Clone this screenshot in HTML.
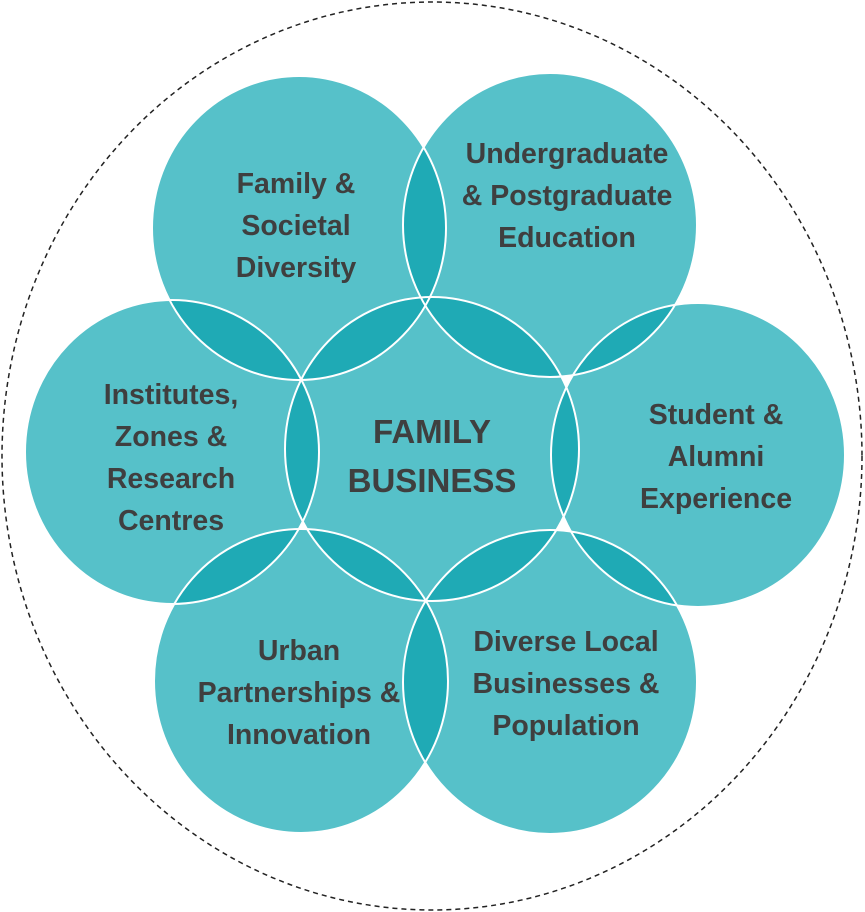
<!DOCTYPE html>
<html><head><meta charset="utf-8"><style>
html,body{margin:0;padding:0;background:#fff;width:865px;height:912px;overflow:hidden}
svg text{font-family:"Liberation Sans",Arial,sans-serif;font-weight:bold;fill:#3f3f3f;text-anchor:middle}
</style></head><body>
<svg width="865" height="912" viewBox="0 0 865 912" xmlns="http://www.w3.org/2000/svg">
<defs>
<clipPath id="TL"><ellipse cx="299" cy="228" rx="147" ry="152"/></clipPath>
<clipPath id="TR"><ellipse cx="550" cy="225" rx="147" ry="152"/></clipPath>
<clipPath id="L"><ellipse cx="172" cy="452" rx="147" ry="152"/></clipPath>
<clipPath id="C"><ellipse cx="432" cy="449" rx="147" ry="152"/></clipPath>
<clipPath id="R"><ellipse cx="698" cy="455" rx="147" ry="152"/></clipPath>
<clipPath id="BL"><ellipse cx="301" cy="681" rx="147" ry="152"/></clipPath>
</defs>
<ellipse cx="432" cy="456" rx="430" ry="454" fill="none" stroke="#222" stroke-width="1.5" stroke-dasharray="5,4"/>
<g fill="#56c1c9">
<ellipse cx="299" cy="228" rx="147" ry="152"/><ellipse cx="550" cy="225" rx="147" ry="152"/>
<ellipse cx="172" cy="452" rx="147" ry="152"/><ellipse cx="432" cy="449" rx="147" ry="152"/>
<ellipse cx="698" cy="455" rx="147" ry="152"/><ellipse cx="301" cy="681" rx="147" ry="152"/>
<ellipse cx="550" cy="682" rx="147" ry="152"/>
</g>
<g fill="#1faab5">
<ellipse cx="550" cy="225" rx="147" ry="152" clip-path="url(#TL)"/>
<ellipse cx="172" cy="452" rx="147" ry="152" clip-path="url(#TL)"/>
<ellipse cx="432" cy="449" rx="147" ry="152" clip-path="url(#TL)"/>
<ellipse cx="432" cy="449" rx="147" ry="152" clip-path="url(#TR)"/>
<ellipse cx="698" cy="455" rx="147" ry="152" clip-path="url(#TR)"/>
<ellipse cx="432" cy="449" rx="147" ry="152" clip-path="url(#L)"/>
<ellipse cx="301" cy="681" rx="147" ry="152" clip-path="url(#L)"/>
<ellipse cx="698" cy="455" rx="147" ry="152" clip-path="url(#C)"/>
<ellipse cx="301" cy="681" rx="147" ry="152" clip-path="url(#C)"/>
<ellipse cx="550" cy="682" rx="147" ry="152" clip-path="url(#C)"/>
<ellipse cx="550" cy="682" rx="147" ry="152" clip-path="url(#R)"/>
<ellipse cx="550" cy="682" rx="147" ry="152" clip-path="url(#BL)"/>
</g>
<g fill="none" stroke="#fff" stroke-width="2">
<ellipse cx="299" cy="228" rx="147" ry="152"/><ellipse cx="550" cy="225" rx="147" ry="152"/>
<ellipse cx="172" cy="452" rx="147" ry="152"/><ellipse cx="432" cy="449" rx="147" ry="152"/>
<ellipse cx="698" cy="455" rx="147" ry="152"/><ellipse cx="301" cy="681" rx="147" ry="152"/>
<ellipse cx="550" cy="682" rx="147" ry="152"/>
</g>
<g font-size="28.5">
<text x="296" y="193">Family &amp;</text><text x="296" y="235">Societal</text><text x="296" y="277">Diversity</text>
<text x="567" y="163">Undergraduate</text><text x="567" y="205">&amp; Postgraduate</text><text x="567" y="247">Education</text>
<text x="171" y="404">Institutes,</text><text x="171" y="446">Zones &amp;</text><text x="171" y="488">Research</text><text x="171" y="530">Centres</text>
<text x="716" y="424">Student &amp;</text><text x="716" y="466">Alumni</text><text x="716" y="508">Experience</text>
<text x="299" y="660">Urban</text><text x="299" y="702">Partnerships &amp;</text><text x="299" y="744">Innovation</text>
<text x="566" y="651">Diverse Local</text><text x="566" y="693">Businesses &amp;</text><text x="566" y="735">Population</text>
</g>
<g font-size="33">
<text x="432" y="443">FAMILY</text><text x="432" y="492">BUSINESS</text>
</g>
</svg>
</body></html>
